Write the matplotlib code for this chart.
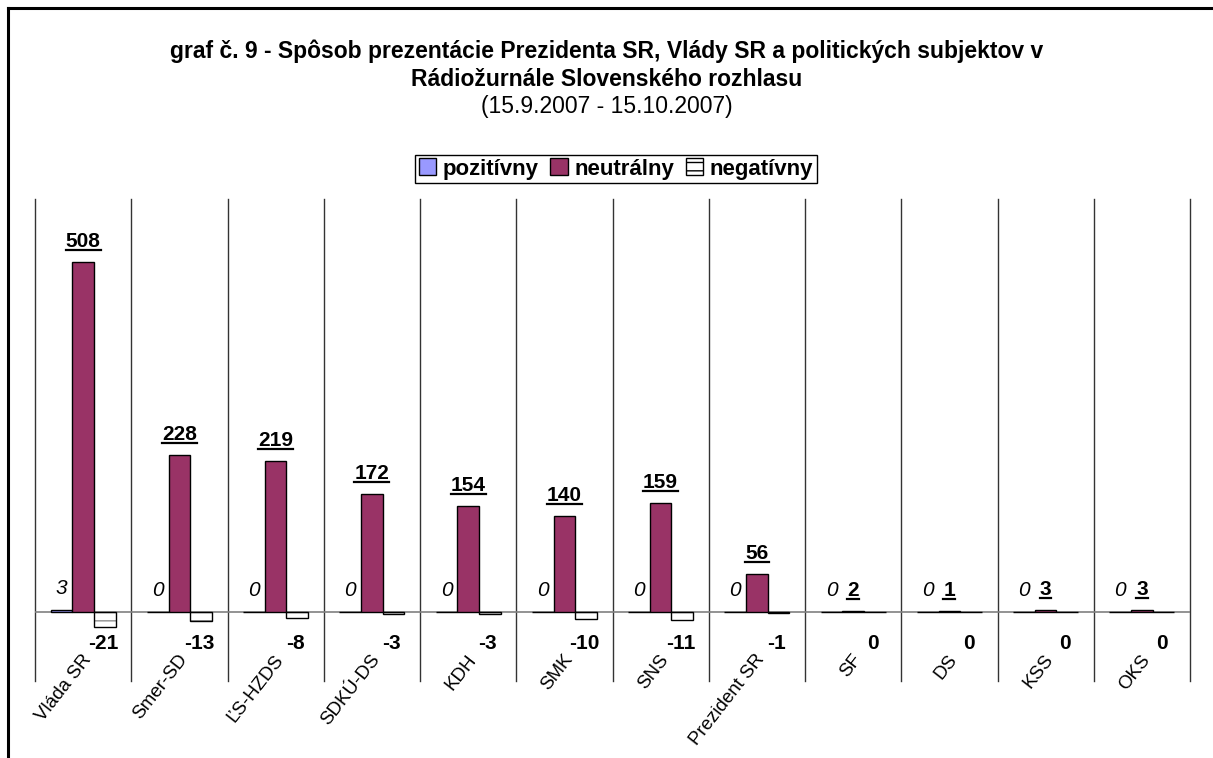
import matplotlib
matplotlib.use("Agg")
import matplotlib.pyplot as plt
import numpy as np
from matplotlib.patches import Patch
from matplotlib.lines import Line2D

plt.rcParams['font.family'] = ['Liberation Sans', 'DejaVu Sans']
plt.rcParams['hatch.linewidth'] = 1.0

# data
categories = ['Vláda SR', 'Smer-SD', 'ĽS-HZDS', 'SDKÚ-DS', 'KDH', 'SMK', 'SNS',
              'Prezident SR', 'SF', 'DS', 'KSS', 'OKS']
pozitivny = [3, 0, 0, 0, 0, 0, 0, 0, 0, 0, 0, 0]
neutralny = [508, 228, 219, 172, 154, 140, 159, 56, 2, 1, 3, 3]
negativny = [-21, -13, -8, -3, -3, -10, -11, -1, 0, 0, 0, 0]

c_pos = '#9999FF'
c_neu = '#993366'

W, H = 1213, 758
fig = plt.figure(figsize=(W / 100, H / 100), dpi=100)
ax = fig.add_axes([35/W, 1-681/H, (1190-35)/W, (681-199)/H])

x = np.arange(len(categories))
w = 0.225

ax.bar(x - w, pozitivny, w, color=c_pos, edgecolor='black', linewidth=1, zorder=3)
ax.bar(x, neutralny, w, color=c_neu, edgecolor='black', linewidth=1, zorder=3)
# negative: gray hatch first, black outline on top
ax.bar(x + w, negativny, w, color='white', edgecolor='#8c8c8c', hatch='--', linewidth=0, zorder=3)
ax.bar(x + w, negativny, w, fill=False, edgecolor='black', linewidth=1, zorder=4)

ax.set_xlim(-0.5, len(categories) - 0.5)
ax.set_ylim(-100, 600)
for s in ax.spines.values():
    s.set_visible(False)
ax.set_xticks([])
ax.set_yticks([])

# category separators and zero line
for b in np.arange(-0.5, len(categories), 1.0):
    ax.axvline(b, color='#333333', linewidth=1, zorder=1, clip_on=False)
ax.axhline(0, color='#808080', linewidth=1.2, zorder=2)

# value labels
neu_texts = []
for i in range(len(categories)):
    ax.annotate(str(pozitivny[i]), (x[i] - w, max(pozitivny[i], 0)), xytext=(0, 12),
                textcoords='offset pixels', ha='center', va='bottom',
                fontsize=15, fontstyle='italic', zorder=5)
    t = ax.annotate(str(neutralny[i]), (x[i], neutralny[i]), xytext=(0, 11),
                    textcoords='offset pixels', ha='center', va='bottom',
                    fontsize=15, fontweight='bold', zorder=5)
    neu_texts.append(t)
    ax.text(x[i] + w - 0.02, -45, str(negativny[i]), ha='center', va='center',
            fontsize=15, fontweight='bold', zorder=5)
    ax.text(x[i] - 0.02, -57, categories[i], rotation=52, rotation_mode='anchor',
            ha='right', va='top', fontsize=13.5, clip_on=False)

# title
fig.text(0.5, 1-58/H, 'graf č. 9 - Spôsob prezentácie Prezidenta SR, Vlády SR a politických subjektov v',
         ha='center', va='baseline', fontsize=16.5, fontweight='bold')
fig.text(0.5, 1-86/H, 'Rádiožurnále Slovenského rozhlasu', ha='center', va='baseline',
         fontsize=16.5, fontweight='bold')
fig.text(0.5, 1-113/H, '(15.9.2007 - 15.10.2007)', ha='center', va='baseline', fontsize=16.5)

handles = [Patch(facecolor=c_pos, edgecolor='black', label='pozitívny'),
           Patch(facecolor=c_neu, edgecolor='black', label='neutrálny'),
           Patch(facecolor='white', edgecolor='black', hatch='--', label='negatívny')]
leg = fig.legend(handles=handles, loc='center', bbox_to_anchor=(616/W, 1-169/H), ncol=3,
                 frameon=True, fancybox=False, edgecolor='black', framealpha=1,
                 handlelength=0.8, handleheight=0.8, handletextpad=0.3, columnspacing=0.5,
                 borderpad=0.15, borderaxespad=0, prop={'weight': 'bold', 'size': 16})
leg.get_frame().set_linewidth(1)

# outer border (top and left edges of the chart area)
fig.add_artist(Line2D([8/W, 1], [1-8/H, 1-8/H], color='black', linewidth=2.2,
                      transform=fig.transFigure))
fig.add_artist(Line2D([8/W, 8/W], [0, 1-8/H], color='black', linewidth=2.2,
                      transform=fig.transFigure))

# underline the neutral values
fig.canvas.draw()
for t in neu_texts:
    bb = t.get_window_extent()
    y = bb.y0 + 1
    fig.add_artist(Line2D([bb.x0 / W, bb.x1 / W], [y / H, y / H], color='black',
                          linewidth=1.6, transform=fig.transFigure))

fig.savefig('out.png', dpi=100)
